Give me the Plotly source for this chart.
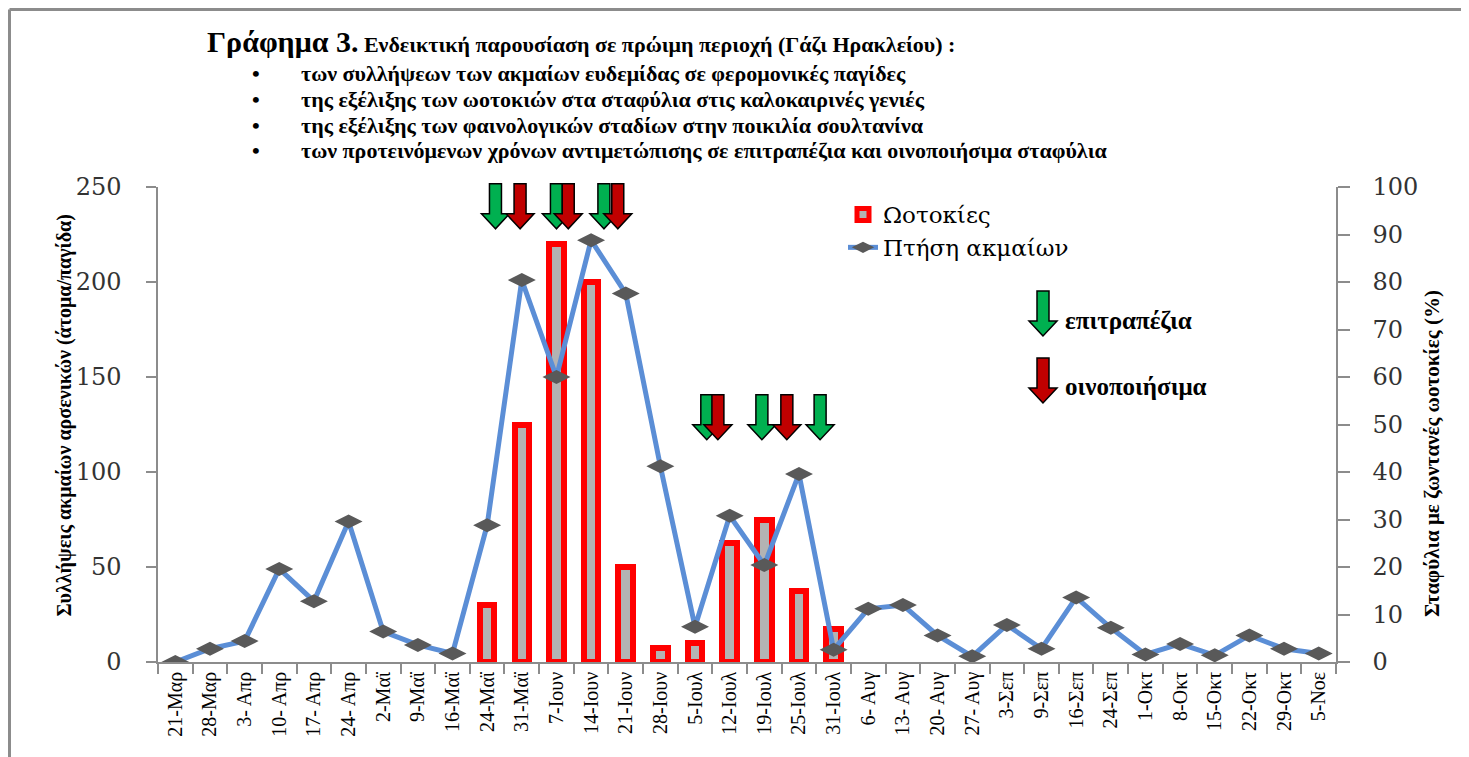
import plotly.graph_objects as go

# ---- δεδομένα ----
dates = ["21-Μαρ", "28-Μαρ", "3- Απρ", "10- Απρ", "17- Απρ", "24- Απρ", "2-Μαϊ", "9-Μαϊ",
         "16-Μαϊ", "24-Μαϊ", "31-Μαϊ", "7-Ιουν", "14-Ιουν", "21-Ιουν", "28-Ιουν", "5-Ιουλ",
         "12-Ιουλ", "19-Ιουλ", "25-Ιουλ", "31-Ιουλ", "6- Αυγ", "13- Αυγ", "20- Αυγ", "27- Αυγ",
         "3-Σεπ", "9-Σεπ", "16-Σεπ", "24-Σεπ", "1-Οκτ", "8-Οκτ", "15-Οκτ", "22-Οκτ", "29-Οκτ", "5-Νοε"]
flight = [0, 7, 11, 49, 32, 74, 16, 9, 4.5, 72, 201, 150, 222, 194, 103, 18.5,
          77, 51, 99, 6.5, 28, 30, 14, 3, 19.5, 7, 34, 18, 4, 9.5, 3.5, 14, 7, 4.5]
eggs = [None, None, None, None, None, None, None, None, None, 12, 50, 88, 80, 20, 3, 4,
        25, 30, 15, 7, None, None, None, None, None, None, None, None, None, None, None, None, None, None]

# βέλη (θέση σε μονάδες κατηγορίας, τύπος, αιχμή σε μονάδες αριστερού άξονα)
arrow_pos = [9.24, 9.95, 11.0, 11.34, 12.37, 12.77, 15.34, 15.66, 16.93, 17.65, 18.61]
arrow_kind = ["g", "r", "g", "r", "g", "r", "g", "r", "g", "r", "g"]
arrow_tip = [228, 228, 228, 228, 228, 228, 117, 117, 117, 117, 117]

title_main = "Γράφημα 3."
title_rest = "Ενδεικτική παρουσίαση σε πρώιμη περιοχή (Γάζι Ηρακλείου) :"
bullets = ["των συλλήψεων των ακμαίων ευδεμίδας σε φερομονικές παγίδες",
           "της εξέλιξης των ωοτοκιών στα σταφύλια στις καλοκαιρινές γενιές",
           "της εξέλιξης των φαινολογικών σταδίων στην ποικιλία σουλτανίνα",
           "των προτεινόμενων χρόνων αντιμετώπισης σε επιτραπέζια και οινοποιήσιμα σταφύλια"]

SERIF = "Liberation Serif, Times New Roman, serif"
NUMF = "DejaVu Serif, serif"
GREEN, RED = "#00B050", "#C00000"
OFF = 8                      # περιθώριο του body στη σελίδα
W, H = 1469 - OFF, 757 - OFF
L, R, T, B = 158, 1336, 187, 662  # περιοχή γραφήματος (pixels σελίδας)


def px_x(p):
    return (p - L) / (R - L)


def px_y(p):
    return (B - p) / (B - T)


n = len(dates)
xs = list(range(n))

fig = go.Figure()
fig.add_trace(go.Bar(
    x=xs, y=eggs, name="Ωοτοκίες", yaxis="y", width=0.42,
    marker=dict(color="#B3B3B3", line=dict(color="#FF0000", width=6)),
))
fig.add_trace(go.Scatter(
    x=xs, y=flight, name="Πτήση ακμαίων", yaxis="y2", mode="lines+markers",
    line=dict(color="#5B8ED6", width=5),
    marker=dict(symbol="diamond-wide", size=20, color="#595959"),
))

shapes = []
arrow_path = "M0,0 L-14,15 L-6,15 L-6,45 L6,45 L6,15 L14,15 Z"
for pos, kind, tip in zip(arrow_pos, arrow_kind, arrow_tip):
    shapes.append(dict(
        type="path", xref="paper", yref="paper", xsizemode="pixel", ysizemode="pixel",
        xanchor=(pos + 0.5) / n, yanchor=tip / 250, path=arrow_path,
        fillcolor=GREEN if kind == "g" else RED, line=dict(color="black", width=1.5),
    ))
# υπόμνημα βελών
for yy, col in [(336, GREEN), (403, RED)]:
    shapes.append(dict(
        type="path", xref="paper", yref="paper", xsizemode="pixel", ysizemode="pixel",
        xanchor=px_x(1043), yanchor=px_y(yy), path=arrow_path,
        fillcolor=col, line=dict(color="black", width=1.5),
    ))
# πλαίσιο
shapes.append(dict(type="line", xref="paper", yref="paper", x0=px_x(9.5), x1=px_x(1480),
                   y0=px_y(9.5), y1=px_y(9.5), line=dict(color="#8C8C8C", width=3)))
shapes.append(dict(type="line", xref="paper", yref="paper", x0=px_x(9.5), x1=px_x(9.5),
                   y0=px_y(9.5), y1=px_y(770), line=dict(color="#8C8C8C", width=3)))

ann = []
ann.append(dict(xref="paper", yref="paper", x=px_x(205), y=px_y(42), xanchor="left", yanchor="middle",
                showarrow=False, font=dict(family=SERIF, size=22, color="black"),
                text=f"<b><span style='font-size:30px'>{title_main}</span> {title_rest}</b>"))
for i, t in enumerate(bullets):
    yy = 73 + 26 * i
    ann.append(dict(xref="paper", yref="paper", x=px_x(250), y=px_y(yy), xanchor="left", yanchor="middle",
                    showarrow=False, font=dict(family=SERIF, size=22, color="black"), text="<b>•</b>"))
    ann.append(dict(xref="paper", yref="paper", x=px_x(299), y=px_y(yy), xanchor="left", yanchor="middle",
                    showarrow=False, font=dict(family=SERIF, size=22, color="black"), text=f"<b>{t}</b>"))
ann.append(dict(xref="paper", yref="paper", x=px_x(1063), y=px_y(320), xanchor="left", yanchor="middle",
                showarrow=False, font=dict(family=SERIF, size=25, color="black"), text="<b>επιτραπέζια</b>"))
ann.append(dict(xref="paper", yref="paper", x=px_x(1063), y=px_y(386), xanchor="left", yanchor="middle",
                showarrow=False, font=dict(family=SERIF, size=25, color="black"), text="<b>οινοποιήσιμα</b>"))
ann.append(dict(xref="paper", yref="paper", x=px_x(50), y=px_y(416), textangle=-90, showarrow=False,
                font=dict(family=SERIF, size=20, color="black"),
                text="<b>Συλλήψεις ακμαίων αρσενικών (άτομα/παγίδα)</b>"))
ann.append(dict(xref="paper", yref="paper", x=px_x(1446), y=px_y(454), textangle=-90, showarrow=False,
                font=dict(family=SERIF, size=21, color="black"),
                text="<b>Σταφύλια με ζωντανές ωοτοκίες (%)</b>"))

fig.update_layout(
    width=W, height=H,
    margin=dict(l=L - OFF, r=OFF + W - R, t=T - OFF, b=OFF + H - B),
    paper_bgcolor="white", plot_bgcolor="white",
    bargap=0,
    showlegend=True,
    legend=dict(x=px_x(843), y=px_y(193), xanchor="left", yanchor="top",
                font=dict(family=NUMF, size=23, color="black"), bgcolor="rgba(0,0,0,0)",
                tracegroupgap=0),
    xaxis=dict(
        range=[-0.5, n - 0.5], tickmode="array", tickvals=xs, ticktext=dates, tickangle=-90,
        ticks="", showgrid=False, zeroline=False, showline=True, linecolor="#8C8C8C", linewidth=1.5,
        tickfont=dict(family=SERIF, size=20, color="black"),
        minor=dict(tickmode="array", tickvals=[i - 0.5 for i in range(n + 1)], ticks="outside",
                   ticklen=10, tickcolor="#8C8C8C", tickwidth=1.5, showgrid=False),
    ),
    yaxis=dict(
        side="right", range=[0, 100], dtick=10, showgrid=False, zeroline=False,
        showline=True, linecolor="#8C8C8C", linewidth=1.5, ticks="outside", ticklen=12,
        tickcolor="#8C8C8C", tickwidth=1.5, ticklabelstandoff=18,
        tickfont=dict(family=NUMF, size=24, color="#333333"),
    ),
    yaxis2=dict(
        side="left", overlaying="y", range=[0, 250], dtick=50, showgrid=False, zeroline=False,
        showline=True, linecolor="#8C8C8C", linewidth=1.5, ticks="outside", ticklen=10,
        tickcolor="#8C8C8C", tickwidth=1.5, ticklabelstandoff=20,
        tickfont=dict(family=NUMF, size=24, color="#333333"),
    ),
    shapes=shapes,
    annotations=ann,
)

fig.write_html("out.html")
